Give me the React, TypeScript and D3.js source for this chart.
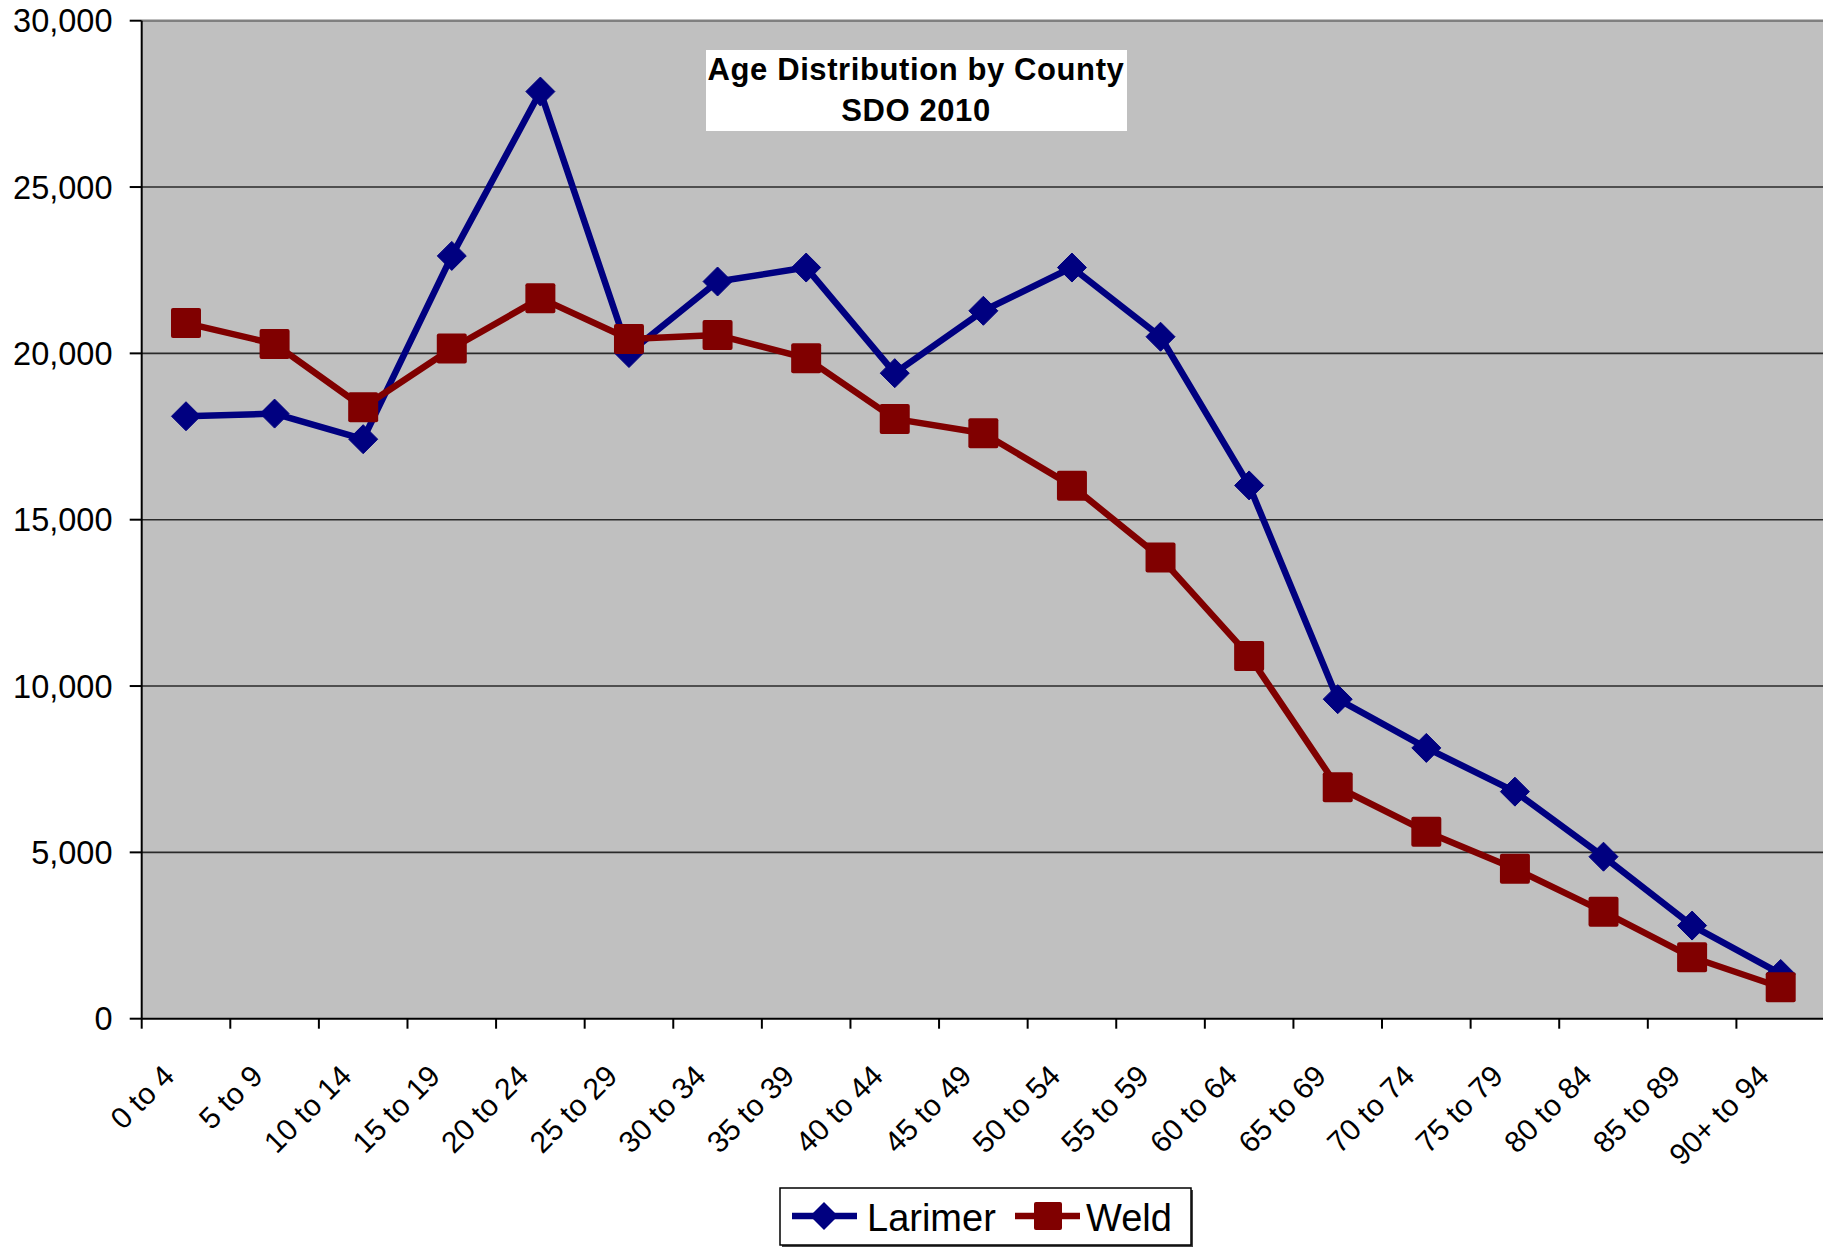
import React from "react";
import * as d3 from "d3";

const categories = ["0 to 4","5 to 9","10 to 14","15 to 19","20 to 24","25 to 29","30 to 34","35 to 39","40 to 44","45 to 49","50 to 54","55 to 59","60 to 64","65 to 69","70 to 74","75 to 79","80 to 84","85 to 89","90+ to 94"];
const larimer = [18110,18190,17420,22930,27870,20010,22160,22580,19405,21280,22580,20500,16030,9605,8140,6825,4870,2800,1345];
const weld = [20910,20285,18380,20145,21660,20430,20550,19855,18030,17600,16017,13860,10905,6957,5623,4510,3217,1846,944];
const yTicks = [0,5000,10000,15000,20000,25000,30000];
const titleLines = ["Age Distribution by County","SDO 2010"];
const seriesNames = ["Larimer","Weld"];

const W = 1823, H = 1249;
const left = 141.7, right = 1825, top = 20.7, bottom = 1018.7;
const FONT = "'Liberation Sans', Arial, sans-serif";
const NAVY = "#000080", MAROON = "#800000";

export default function App() {
  const x = d3.scaleBand<string>().domain(categories).range([left, right]).padding(0);
  const y = d3.scaleLinear().domain([0, 30000]).range([bottom, top]);
  const cx = (c: string) => (x(c) as number) + x.bandwidth() / 2;
  const line = d3.line<number>().x((_, i) => cx(categories[i])).y((d) => y(d));
  const fmt = d3.format(",");
  const dS = 14.5;
  const sq = 30;
  const diamond = (px: number, py: number, h: number) => `M${px},${py - h}L${px + h},${py}L${px},${py + h}L${px - h},${py}Z`;

  const boundaries = categories.map((c) => x(c) as number).concat([right]);

  return (
    <div style={{ position: "absolute", left: 0, top: 0 }}>
      <svg width={W} height={H} style={{ display: "block", background: "#fff" }}>
        <rect x={left} y={top} width={right - left} height={bottom - top} fill="#C0C0C0" />
        {yTicks.filter((t) => t > 0 && t < 30000).map((t) => (
          <line key={t} x1={left} x2={right} y1={y(t)} y2={y(t)} stroke="#2a2a2a" strokeWidth={1.6} />
        ))}
        <line x1={left} x2={right} y1={top} y2={top} stroke="#808080" strokeWidth={2.5} />
        <line x1={left} x2={left} y1={top} y2={bottom} stroke="#000" strokeWidth={2} />
        <line x1={left} x2={right} y1={bottom} y2={bottom} stroke="#000" strokeWidth={2} />
        {yTicks.map((t) => (
          <g key={t}>
            <line x1={left - 12} x2={left} y1={y(t)} y2={y(t)} stroke="#000" strokeWidth={2} />
            <text x={112.5} y={y(t)} dy="0.36em" textAnchor="end" fontFamily={FONT} fontSize={32.5} fill="#000">{fmt(t)}</text>
          </g>
        ))}
        {boundaries.map((b, i) => (
          <line key={i} x1={b} x2={b} y1={bottom} y2={bottom + 10} stroke="#000" strokeWidth={2} />
        ))}
        {categories.map((c) => (
          <text key={c} transform={`translate(${cx(c) - 10},${1078}) rotate(-45)`} textAnchor="end" fontFamily={FONT} fontSize={30} fill="#000">{c}</text>
        ))}

        <path d={line(larimer) || ""} fill="none" stroke={NAVY} strokeWidth={6.5} strokeLinejoin="round" />
        {larimer.map((v, i) => (
          <path key={i} d={diamond(cx(categories[i]), y(v), dS)} fill={NAVY} stroke={NAVY} strokeWidth={1} strokeLinejoin="round" />
        ))}
        <path d={line(weld) || ""} fill="none" stroke={MAROON} strokeWidth={6.5} strokeLinejoin="round" />
        {weld.map((v, i) => (
          <rect key={i} x={cx(categories[i]) - sq / 2} y={y(v) - sq / 2} width={sq} height={sq} rx={2} fill={MAROON} />
        ))}

        <rect x={706} y={50} width={421} height={81} fill="#fff" />
        {titleLines.map((t, i) => (
          <text key={t} x={916} y={i === 0 ? 80 : 120.5} textAnchor="middle" fontFamily={FONT} fontWeight="bold" fontSize={31} letterSpacing={0.6} fill="#000">{t}</text>
        ))}

        <rect x={782} y={1190} width={411} height={57} fill="#444" />
        <rect x={780} y={1188} width={411} height={57} fill="#fff" stroke="#000" strokeWidth={1.5} />
        <line x1={792} x2={857} y1={1216} y2={1216} stroke={NAVY} strokeWidth={6.5} />
        <path d={diamond(824, 1216, 14)} fill={NAVY} />
        <text x={867} y={1231} fontFamily={FONT} fontSize={38} fill="#000">{seriesNames[0]}</text>
        <line x1={1015} x2={1080} y1={1216} y2={1216} stroke={MAROON} strokeWidth={6.5} />
        <rect x={1034} y={1202} width={28} height={28} rx={2} fill={MAROON} />
        <text x={1086} y={1231} fontFamily={FONT} fontSize={38} fill="#000">{seriesNames[1]}</text>
      </svg>
    </div>
  );
}
